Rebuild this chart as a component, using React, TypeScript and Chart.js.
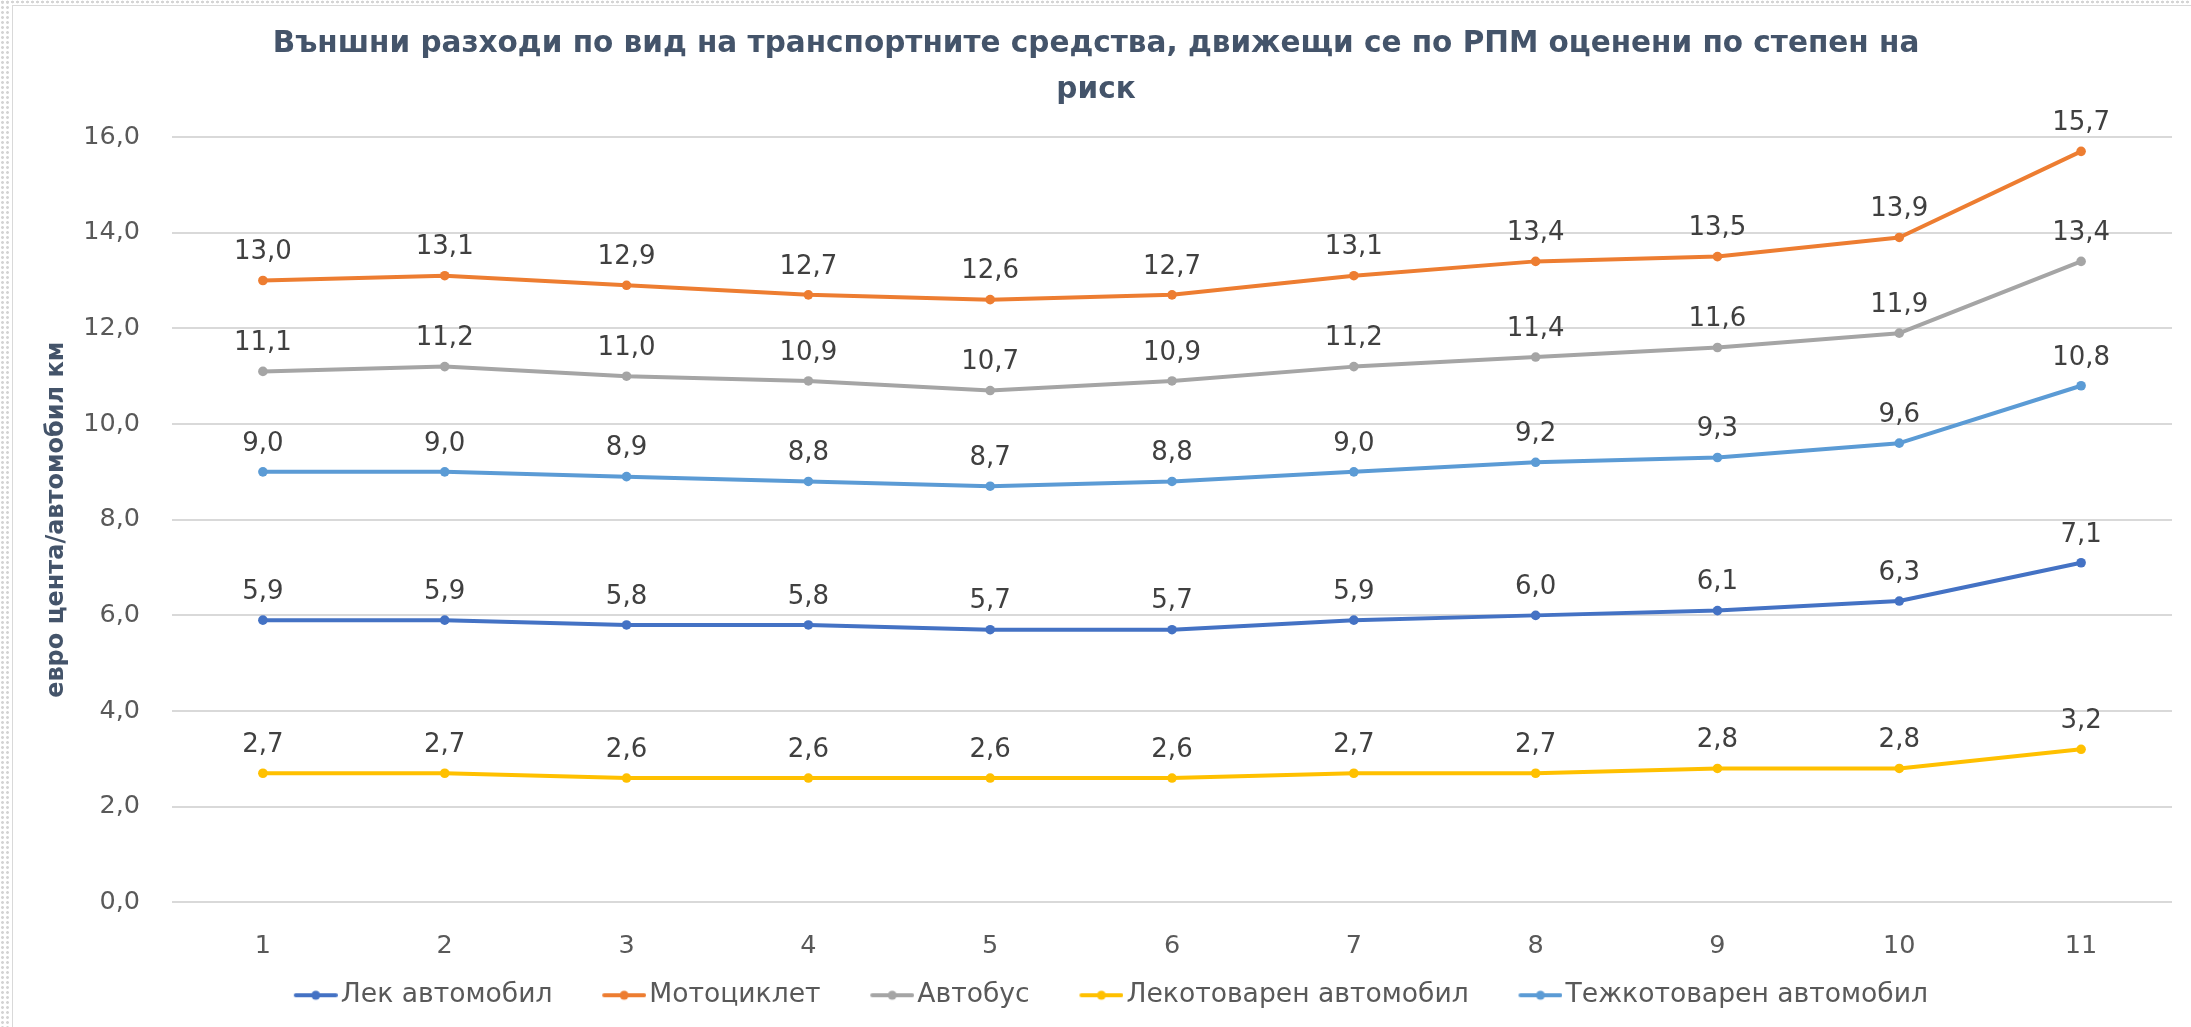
import React, { useEffect, useRef } from "react";
import { Chart, registerables } from "chart.js";

Chart.register(...registerables);

const W = 2191;
const H = 1027;
const FONT = "'DejaVu Sans', 'Noto Sans', sans-serif";

const titleLines = [
  "Външни разходи по вид на транспортните средства, движещи се по РПМ оценени по степен на",
  "риск",
];
const yAxisTitle = "евро цента/автомобил км";

const categories = ["1", "2", "3", "4", "5", "6", "7", "8", "9", "10", "11"];
const yTicks = [0, 2, 4, 6, 8, 10, 12, 14, 16];

const seriesNames = [
  "Лек автомобил",
  "Мотоциклет",
  "Автобус",
  "Лекотоварен автомобил",
  "Тежкотоварен автомобил",
];
const seriesColors = ["#4472C4", "#ED7D31", "#A5A5A5", "#FFC000", "#5B9BD5"];

const lekAvtomobil = [5.9, 5.9, 5.8, 5.8, 5.7, 5.7, 5.9, 6.0, 6.1, 6.3, 7.1];
const motociklet = [13.0, 13.1, 12.9, 12.7, 12.6, 12.7, 13.1, 13.4, 13.5, 13.9, 15.7];
const avtobus = [11.1, 11.2, 11.0, 10.9, 10.7, 10.9, 11.2, 11.4, 11.6, 11.9, 13.4];
const lekotovaren = [2.7, 2.7, 2.6, 2.6, 2.6, 2.6, 2.7, 2.7, 2.8, 2.8, 3.2];
const tezhkotovaren = [9.0, 9.0, 8.9, 8.8, 8.7, 8.8, 9.0, 9.2, 9.3, 9.6, 10.8];

const seriesValues = [lekAvtomobil, motociklet, avtobus, lekotovaren, tezhkotovaren];

const fmt = (v: number) => v.toFixed(1).replace(".", ",");

// legend geometry
const LEGEND_FONT = 26.6;
const LEGEND_BOX = 63.5;
const MARKER_CANVAS_W = 84;

function makeMarker(color: string): HTMLCanvasElement {
  const c = document.createElement("canvas");
  c.width = MARKER_CANVAS_W;
  c.height = 12;
  const g = c.getContext("2d")!;
  const x0 = MARKER_CANVAS_W - 44;
  g.strokeStyle = color;
  g.lineWidth = 4;
  g.lineCap = "round";
  g.beginPath();
  g.moveTo(x0 + 2, 6);
  g.lineTo(x0 + 42, 6);
  g.stroke();
  g.fillStyle = color;
  g.beginPath();
  g.arc(x0 + 22, 6, 4.5, 0, Math.PI * 2);
  g.fill();
  return c;
}

const dataLabelPlugin = {
  id: "dataLabels",
  afterDatasetsDraw(chart: any) {
    const ctx = chart.ctx;
    ctx.save();
    ctx.font = `26px ${FONT}`;
    ctx.fillStyle = "#404040";
    ctx.textAlign = "center";
    ctx.textBaseline = "middle";
    chart.data.datasets.forEach((ds: any, i: number) => {
      const meta = chart.getDatasetMeta(i);
      meta.data.forEach((pt: any, j: number) => {
        ctx.fillText(fmt(ds.data[j]), pt.x, pt.y - 28);
      });
    });
    ctx.restore();
  },
};

export default function App() {
  const ref = useRef<HTMLCanvasElement>(null);

  useEffect(() => {
    if (!ref.current) return;
    const markers = seriesColors.map(makeMarker);
    const chart = new Chart(ref.current, {
      type: "line",
      data: {
        labels: categories,
        datasets: seriesNames.map((name, i) => ({
          label: name,
          data: seriesValues[i],
          borderColor: seriesColors[i],
          backgroundColor: seriesColors[i],
          pointBackgroundColor: seriesColors[i],
          pointBorderColor: seriesColors[i],
          pointRadius: 4.8,
          pointBorderWidth: 0,
          borderWidth: 4,
          borderJoinStyle: "round",
          borderCapStyle: "round",
          tension: 0,
          fill: false,
        })),
      },
      options: {
        responsive: false,
        animation: false,
        devicePixelRatio: 1,
        layout: { padding: { left: 20, right: 19, top: 0, bottom: 8.5 } },
        plugins: {
          tooltip: { enabled: false },
          title: {
            display: true,
            text: titleLines,
            color: "#44546A",
            font: { family: FONT, size: 29.5, weight: "bold", lineHeight: 46 / 29.5 },
            padding: { top: 21, bottom: 24 },
          },
          legend: {
            display: true,
            position: "bottom",
            labels: {
              usePointStyle: true,
              pointStyleWidth: LEGEND_BOX,
              padding: 20,
              color: "#595959",
              font: { family: FONT, size: LEGEND_FONT },
              generateLabels: (c: any) =>
                c.data.datasets.map((ds: any, i: number) => ({
                  text: ds.label,
                  pointStyle: markers[i],
                  fillStyle: seriesColors[i],
                  strokeStyle: seriesColors[i],
                  lineWidth: 0,
                  hidden: false,
                  datasetIndex: i,
                  fontColor: "#595959",
                })),
            },
          },
        },
        scales: {
          x: {
            type: "category",
            offset: true,
            grid: { display: false, drawTicks: false },
            border: { display: false },
            ticks: {
              color: "#595959",
              font: { family: FONT, size: 25.5 },
              padding: 29,
              maxRotation: 0,
              autoSkip: false,
            },
            afterFit: (s: any) => {
              s.height = 59.5;
            },
          },
          y: {
            type: "linear",
            min: 0,
            max: 16,
            afterBuildTicks: (s: any) => {
              s.ticks = yTicks.map((v) => ({ value: v }));
            },
            ticks: {
              color: "#595959",
              font: { family: FONT, size: 25.5 },
              padding: 32,
              callback: (v: any) => fmt(Number(v)),
            },
            grid: { color: "#D9D9D9", lineWidth: 2, drawTicks: false },
            border: { display: false },
            title: {
              display: true,
              text: yAxisTitle,
              color: "#44546A",
              font: { family: FONT, size: 24, weight: "bold" },
              padding: { top: 22, bottom: 0 },
            },
            afterFit: (s: any) => {
              s.width = 152;
            },
          },
        },
      },
      plugins: [dataLabelPlugin],
    } as any);
    return () => chart.destroy();
  }, []);

  const dots =
    "radial-gradient(circle, #d4d4d4 1.1px, rgba(255,255,255,0) 1.7px)";

  return (
    <div
      style={{
        position: "fixed",
        left: 0,
        top: 0,
        width: W,
        height: H,
        background: "#ffffff",
        overflow: "hidden",
      }}
    >
      <div
        style={{
          position: "absolute",
          left: 0,
          top: 0,
          width: 10,
          height: H,
          backgroundImage: dots,
          backgroundSize: "5px 5px",
        }}
      />
      <div
        style={{
          position: "absolute",
          left: 0,
          top: 0,
          width: W,
          height: 4,
          backgroundImage: dots,
          backgroundSize: "5px 4px",
        }}
      />
      <div
        style={{
          position: "absolute",
          left: 12,
          top: 5,
          width: W,
          height: H,
          borderLeft: "1px solid #d9d9d9",
          borderTop: "1px solid #d9d9d9",
        }}
      />
      <canvas
        ref={ref}
        width={W}
        height={H}
        style={{ position: "absolute", left: 0, top: 0, width: W, height: H }}
      />
    </div>
  );
}
